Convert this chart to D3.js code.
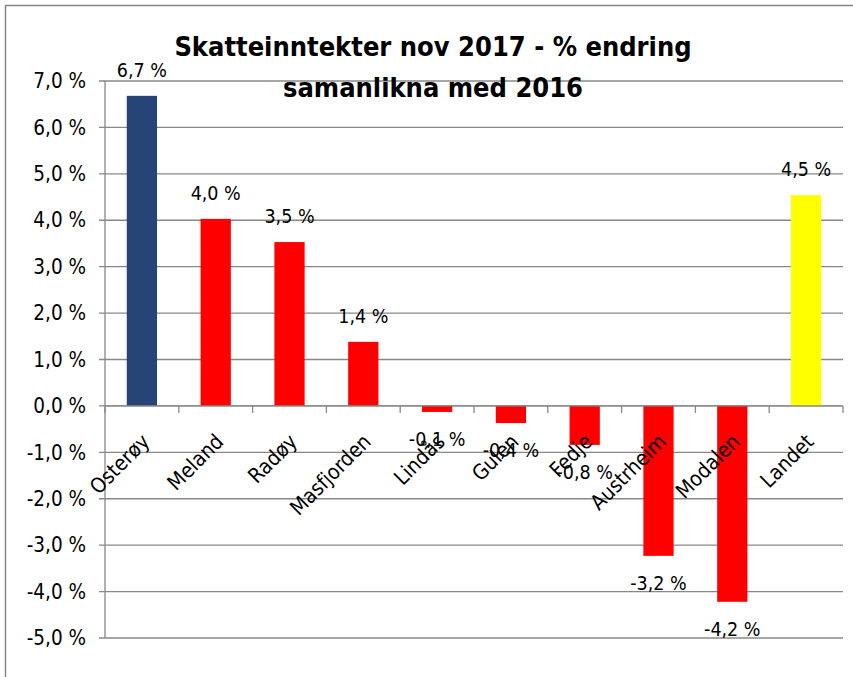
<!DOCTYPE html>
<html><head><meta charset="utf-8">
<script src="https://cdn.jsdelivr.net/npm/d3@7"></script>
<style>body{margin:0;background:#fff}</style>
</head><body>
<svg id="c" width="853" height="677"></svg>
<script>
const categories = ["Osterøy","Meland","Radøy","Masfjorden","Lindås","Gulen","Fedje","Austrheim","Modalen","Landet"];
const values = [6.68, 4.03, 3.53, 1.38, -0.13, -0.37, -0.84, -3.23, -4.22, 4.54];
const colors = ["#264478","#FF0000","#FF0000","#FF0000","#FF0000","#FF0000","#FF0000","#FF0000","#FF0000","#FFFF00"];
const yTicks = [7,6,5,4,3,2,1,0,-1,-2,-3,-4,-5];
const titleLines = ["Skatteinntekter nov 2017 - % endring","samanlikna med 2016"];

const font = "'DejaVu Sans Condensed','Liberation Sans Narrow',Arial,sans-serif";
const svg = d3.select("#c");
const L = 105, R = 843, T = 81, B = 638;
const x = d3.scaleBand().domain(categories).range([L, R]).paddingInner(0.59).paddingOuter(0.295);
const y = d3.scaleLinear().domain([-5, 7]).range([B, T]);
const pct = v => d3.format(".1f")(v).replace(".", ",").replace("\u2212", "-") + " %";

// border
svg.append("rect").attr("x",5.5).attr("y",5.5).attr("width",900).attr("height",700)
  .attr("fill","none").attr("stroke","#878787").attr("stroke-width",1.5);

// gridlines
svg.append("g").selectAll("line").data(yTicks).join("line")
  .attr("x1", L-6).attr("x2", R).attr("y1", d=>y(d)).attr("y2", d=>y(d))
  .attr("stroke","#888").attr("stroke-width",1.3);
// y labels
svg.append("g").selectAll("text").data(yTicks).join("text")
  .attr("x", 86).attr("y", d=>y(d)).attr("dy","0.35em").attr("text-anchor","end")
  .attr("font-family",font).attr("font-size",20.5).attr("fill","#000")
  .text(d => pct(d));
// y axis line
svg.append("line").attr("x1",L).attr("x2",L).attr("y1",T).attr("y2",B).attr("stroke","#888").attr("stroke-width",1.3);

// bars
svg.append("g").selectAll("rect").data(values).join("rect")
  .attr("x",(d,i)=>x(categories[i])).attr("width",x.bandwidth())
  .attr("y",d=>y(Math.max(0,d))).attr("height",d=>Math.abs(y(d)-y(0)))
  .attr("fill",(d,i)=>colors[i]);

// zero axis with ticks
svg.append("line").attr("x1",L).attr("x2",R).attr("y1",y(0)).attr("y2",y(0)).attr("stroke","#888").attr("stroke-width",1.3);
const step = x.step();
svg.append("g").selectAll("line").data(d3.range(categories.length+1)).join("line")
  .attr("x1",i=>L+i*step).attr("x2",i=>L+i*step).attr("y1",y(0)).attr("y2",y(0)+7)
  .attr("stroke","#888").attr("stroke-width",1.3);

// category labels
svg.append("g").selectAll("text").data(categories).join("text")
  .attr("transform",d=>`translate(${x(d)+x.bandwidth()/2+9},${y(0)+37}) rotate(-45)`)
  .attr("text-anchor","end")
  .attr("font-family",font).attr("font-size",21).attr("fill","#000").text(d=>d);

// value labels
svg.append("g").selectAll("text").data(values).join("text")
  .attr("x",(d,i)=>x(categories[i])+x.bandwidth()/2)
  .attr("y",d=> d>=0 ? y(d)-26 : y(d)+27).attr("dy","0.35em").attr("text-anchor","middle")
  .attr("font-family",font).attr("font-size",19.5).attr("fill","#000").text(d=>pct(d));

// title
svg.append("g").selectAll("text").data(titleLines).join("text")
  .attr("x",433).attr("y",(d,i)=>47+i*41).attr("dy","0.35em").attr("text-anchor","middle")
  .attr("font-family",font).attr("font-weight","bold").attr("font-size",27).attr("fill","#000").text(d=>d);
</script>
</body></html>
